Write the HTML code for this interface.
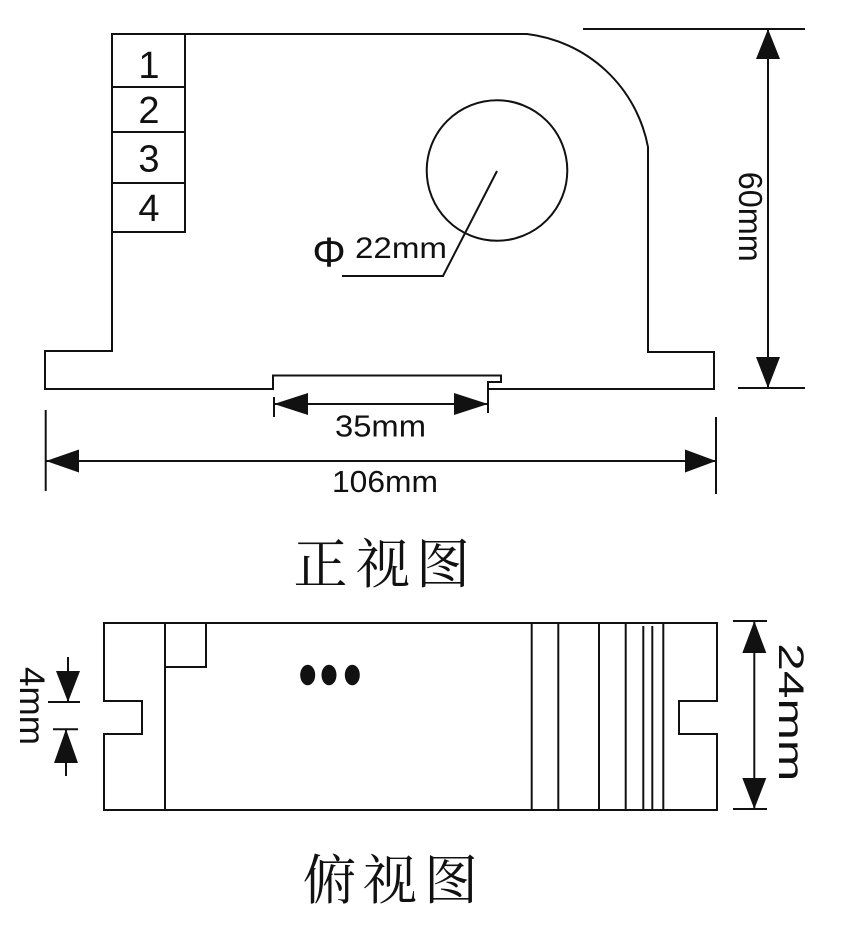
<!DOCTYPE html>
<html>
<head>
<meta charset="utf-8">
<style>
  html,body{margin:0;padding:0;background:#fff;}
  svg{display:block;}
  .t{font-family:"Liberation Sans",Arial,sans-serif;fill:#111;}
  .c{font-family:"Liberation Serif","Noto Serif CJK SC","Noto Sans CJK SC",serif;fill:#111;}
</style>
</head>
<body>
<svg width="841" height="926" viewBox="0 0 841 926" xmlns="http://www.w3.org/2000/svg">
  <rect x="0" y="0" width="841" height="926" fill="#fff"/>
  <g fill="none" stroke="#111" stroke-width="2">
    <!-- front view outline -->
    <path d="M112,34 H527 A140,140 0 0 1 648,147 V352 H714 V389 H488 V382 H501 V375.5 H273 V389 H45 V351 H112 Z"/>
    <!-- terminal box -->
    <rect x="112" y="34" width="73" height="198"/>
    <line x1="112" y1="87" x2="185" y2="87"/>
    <line x1="112" y1="132" x2="185" y2="132"/>
    <line x1="112" y1="183" x2="185" y2="183"/>
    <!-- hole -->
    <circle cx="497" cy="170.5" r="70.3"/>
    <polyline points="497,171 443,276 342,276"/>

    <!-- 60mm dimension -->
    <line x1="583" y1="29" x2="805" y2="29"/>
    <line x1="738" y1="388" x2="805" y2="388"/>
    <line x1="768" y1="29" x2="768" y2="388"/>

    <!-- 35mm dimension -->
    <line x1="274" y1="397" x2="274" y2="417"/>
    <line x1="488" y1="381" x2="488" y2="413"/>
    <line x1="274" y1="404" x2="488" y2="404"/>

    <!-- 106mm dimension -->
    <line x1="45.7" y1="410" x2="45.7" y2="491"/>
    <line x1="716" y1="417" x2="716" y2="494"/>
    <line x1="46" y1="461" x2="716" y2="461"/>

    <!-- top view outline -->
    <path d="M104,623 H717 V701 H679 V734 H717 V810 H104 V734 H142 V701 H104 Z"/>
    <line x1="165" y1="623" x2="165" y2="810"/>
    <polyline points="165,667 206,667 206,623"/>
    <line x1="531.7" y1="623" x2="531.7" y2="810"/>
    <line x1="558.3" y1="623" x2="558.3" y2="810"/>
    <line x1="599" y1="623" x2="599" y2="810"/>
    <line x1="625.7" y1="623" x2="625.7" y2="810"/>
    <line x1="643.3" y1="626" x2="643.3" y2="810"/>
    <line x1="652.3" y1="626" x2="652.3" y2="810"/>
    <line x1="663.3" y1="623" x2="663.3" y2="810"/>

    <!-- 24mm dimension -->
    <line x1="733" y1="621" x2="767" y2="621"/>
    <line x1="733" y1="809" x2="767" y2="809"/>
    <line x1="754.3" y1="621" x2="754.3" y2="809"/>

    <!-- 4mm dimension -->
    <line x1="68" y1="657" x2="68" y2="702"/>
    <line x1="48" y1="702" x2="80" y2="702"/>
    <line x1="53" y1="729.3" x2="78" y2="729.3"/>
    <line x1="66" y1="729" x2="66" y2="776"/>
  </g>

  <g fill="#111" stroke="none">
    <!-- 60mm arrows -->
    <polygon points="768,29 756,59 780,59"/>
    <polygon points="768,388 756,357 780,357"/>
    <!-- 35mm arrows -->
    <polygon points="274,404 308,393 308,415"/>
    <polygon points="488,404 454,393 454,415"/>
    <!-- 106mm arrows -->
    <polygon points="46,461 79,449.5 79,472.5"/>
    <polygon points="716,461 685,449.5 685,472.5"/>
    <!-- 24mm arrows -->
    <polygon points="754.3,621 742.3,653 766.3,653"/>
    <polygon points="754.3,809 742.3,778 766.3,778"/>
    <!-- 4mm arrows -->
    <polygon points="68,702 56,671 80,671"/>
    <polygon points="66,729 54,763 78,763"/>
    <!-- dots -->
    <ellipse cx="307.7" cy="675" rx="7.5" ry="10.3"/>
    <ellipse cx="329" cy="675" rx="7.5" ry="10.3"/>
    <ellipse cx="352.3" cy="675" rx="7.5" ry="10.3"/>
  </g>

  <!-- terminal numbers -->
  <text class="t" x="149" y="78" font-size="38" text-anchor="middle">1</text>
  <text class="t" x="149" y="123" font-size="38" text-anchor="middle">2</text>
  <text class="t" x="149" y="171.5" font-size="38" text-anchor="middle">3</text>
  <text class="t" x="149" y="221" font-size="38" text-anchor="middle">4</text>

  <!-- phi 22mm -->
  <text class="t" x="329" y="266.5" font-size="42" text-anchor="middle">Φ</text>
  <text class="t" x="355" y="258" font-size="30" textLength="92" lengthAdjust="spacingAndGlyphs">22mm</text>

  <!-- 60mm rotated -->
  <text class="t" transform="translate(751,216.7) rotate(90)" x="0" y="12" font-size="33" text-anchor="middle" textLength="90" lengthAdjust="spacingAndGlyphs">60mm</text>

  <!-- 35mm / 106mm -->
  <text class="t" x="335" y="436.5" font-size="31" textLength="91" lengthAdjust="spacingAndGlyphs">35mm</text>
  <text class="t" x="332" y="492" font-size="31" textLength="106" lengthAdjust="spacingAndGlyphs">106mm</text>

  <!-- 24mm rotated -->
  <text class="t" transform="translate(791.5,712.3) rotate(90)" x="0" y="12.5" font-size="35" text-anchor="middle" textLength="138" lengthAdjust="spacingAndGlyphs">24mm</text>

  <!-- 4mm rotated -->
  <text class="t" transform="translate(32.5,706) rotate(90)" x="0" y="12.5" font-size="35" text-anchor="middle" textLength="78" lengthAdjust="spacingAndGlyphs">4mm</text>

  <!-- captions -->
  <text class="c" x="320.5" y="583" font-size="54" text-anchor="middle">正</text>
  <text class="c" x="383" y="583" font-size="54" text-anchor="middle">视</text>
  <text class="c" x="443" y="583" font-size="54" text-anchor="middle">图</text>

  <text class="c" x="329.5" y="899" font-size="54" text-anchor="middle">俯</text>
  <text class="c" x="390" y="899" font-size="54" text-anchor="middle">视</text>
  <text class="c" x="451" y="899" font-size="54" text-anchor="middle">图</text>
</svg>
</body>
</html>
